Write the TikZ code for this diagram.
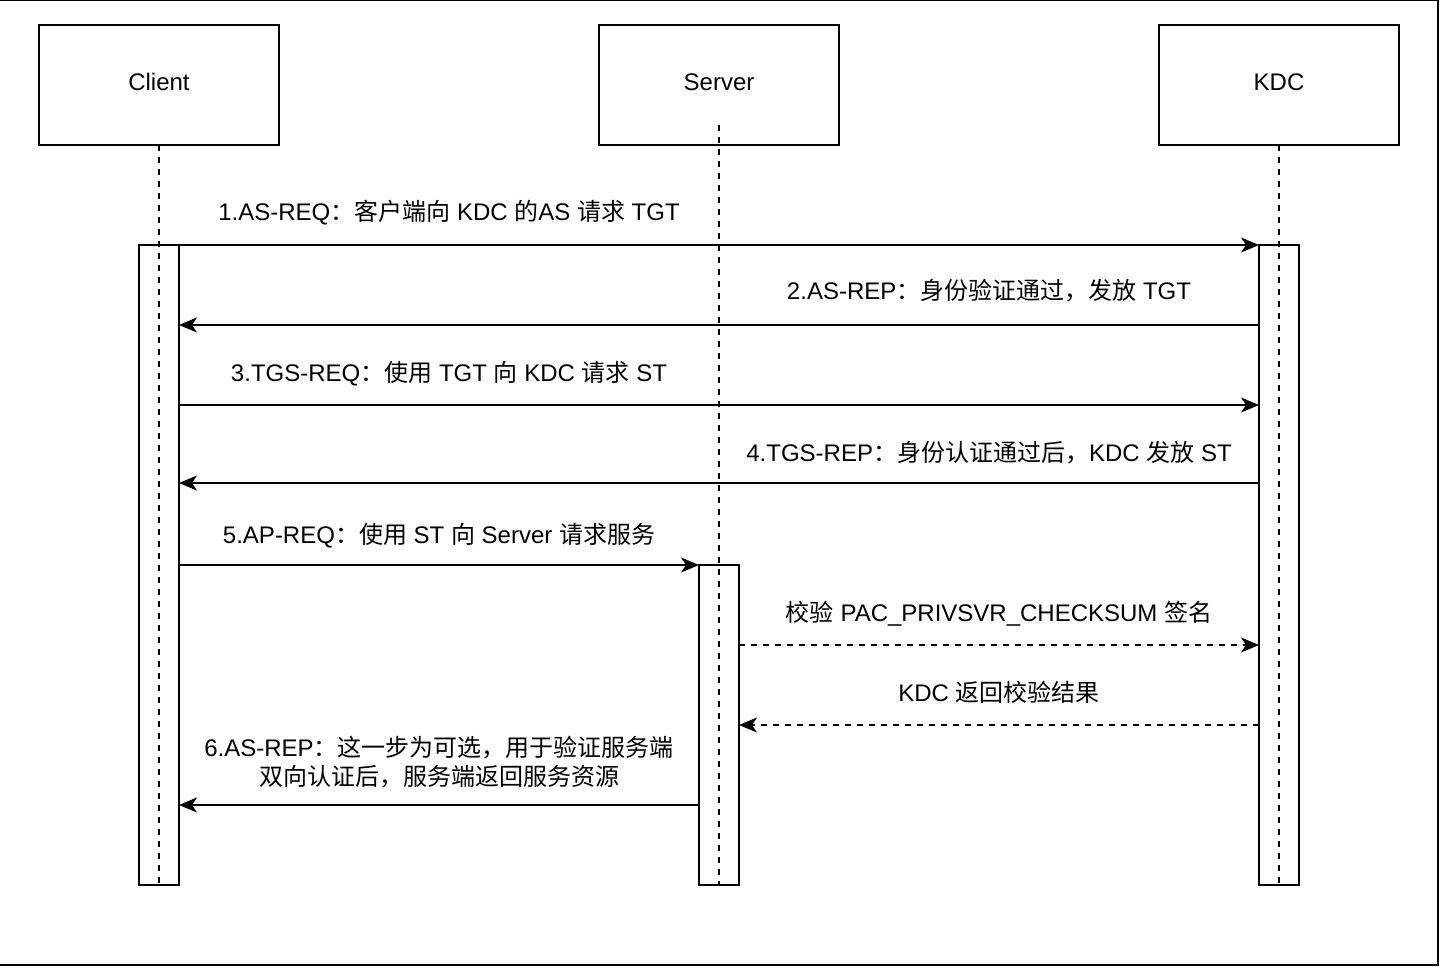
\documentclass[tikz,border=0pt]{standalone}
\usepackage{fontspec}
\setmainfont{Liberation Sans}
\newfontfamily\cjkfont{Noto Sans CJK SC}
\newcommand\zh[1]{{\cjkfont #1}}
\usetikzlibrary{arrows.meta,calc}
\begin{document}
\begin{tikzpicture}[x=1pt,y=-1pt,line width=2pt,
  actor/.style={draw,minimum width=240pt,minimum height=120pt,inner sep=0pt,outer sep=0pt,text height=17pt,text depth=5pt,font=\fontsize{24}{29}\selectfont},
  actbox/.style={draw,fill=white,minimum width=40pt,inner sep=0pt,outer sep=0pt},
  life/.style={dash pattern=on 6pt off 6pt},
  msg/.style={-{Stealth[length=18pt,width=15pt,inset=5pt]}},
  rmsg/.style={msg,dash pattern=on 6pt off 6pt},
  lbl/.style={inner sep=0pt,anchor=base,align=center,font=\fontsize{24}{29}\selectfont}]
\useasboundingbox (0,0) rectangle (1440,968);
\draw (-5,0.5) rectangle (1438,965);
% actors
\node[actor] (client) at (159,85) {Client};
\node[actor] (server) at (719,85) {Server};
\node[actor] (kdc) at (1279,85) {KDC};
% activation boxes
\node[actbox,minimum height=640pt] (cact) at (159,565) {};
\node[actbox,minimum height=320pt] (sact) at (719,725) {};
\node[actbox,minimum height=640pt] (kact) at (1279,565) {};
% lifelines
\coordinate (stop) at (719,125);
\draw[life] (client.south) -- (cact.south);
\draw[life] (stop) -- (sact.south);
\draw[life] (kdc.south) -- (kact.south);
% messages
\draw[msg] (cact.north east) -- (kact.north west);
\draw[msg] ($(kact.north west)+(0,80)$) -- ($(cact.north east)+(0,80)$);
\draw[msg] ($(cact.north east)+(0,160)$) -- ($(kact.north west)+(0,160)$);
\draw[msg] ($(kact.north west)+(0,238)$) -- ($(cact.north east)+(0,238)$);
\draw[msg] ($(cact.north east)+(0,320)$) -- (sact.north west);
\draw[rmsg] ($(sact.north east)+(0,80)$) -- ($(kact.north west)+(0,400)$);
\draw[rmsg] ($(kact.north west)+(0,480)$) -- ($(sact.north east)+(0,160)$);
\draw[msg] ($(sact.north west)+(0,240)$) -- ($(cact.north east)+(0,560)$);
% labels
\node[lbl] (l1) at (449,221) {1.AS-REQ\zh{：客户端向} KDC \zh{的}AS \zh{请求} TGT};
\node[lbl] (l2) at (989,299) {2.AS-REP\zh{：身份验证通过，发放} TGT};
\node[lbl] (l3) at (449,381) {3.TGS-REQ\zh{：使用} TGT \zh{向} KDC \zh{请求} ST};
\node[lbl] (l4) at (989,461) {4.TGS-REP\zh{：身份认证通过后，}KDC \zh{发放} ST};
\node[lbl] (l5) at (439,543) {5.AP-REQ\zh{：使用} ST \zh{向} Server \zh{请求服务}};
\node[lbl] (l6) at (999,621) {\zh{校验} PAC\_PRIVSVR\_CHECKSUM \zh{签名}};
\node[lbl] (l7) at (999,701) {KDC \zh{返回校验结果}};
\node[lbl] (l8) at (439,785) {6.AS-REP\zh{：这一步为可选，用于验证服务端}\\\zh{双向认证后，服务端返回服务资源}};
\end{tikzpicture}
\end{document}
